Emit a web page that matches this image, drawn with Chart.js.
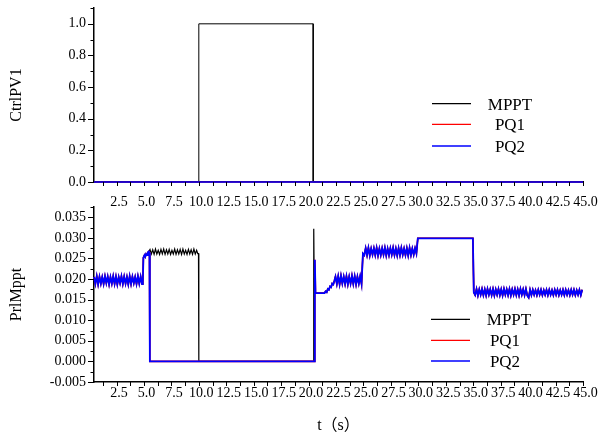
<!DOCTYPE html>
<html>
<head>
<meta charset="utf-8">
<script src="https://cdn.jsdelivr.net/npm/chart.js@4/dist/chart.umd.min.js"></script>
<style>
  html, body { margin: 0; padding: 0; background: #fff; }
  #wrap { position: relative; width: 601px; height: 437px; overflow: hidden; }
  #c1, #c2 { position: absolute; left: 0; }
  #c1 { top: 0; }
  #c2 { top: 200px; }
</style>
</head>
<body>
<div id="wrap">
  <canvas id="c1" width="601" height="215"></canvas>
  <canvas id="c2" width="601" height="237"></canvas>
</div>
<script>
// ---------------- DATA ----------------
const seriesNames = ['MPPT', 'PQ1', 'PQ2'];
const xTickValues = [2.5, 5, 7.5, 10, 12.5, 15, 17.5, 20, 22.5, 25, 27.5, 30, 32.5, 35, 37.5, 40, 42.5, 45];
const topYTicks = [0, 0.2, 0.4, 0.6, 0.8, 1.0];
const botYTicks = [-0.005, 0, 0.005, 0.010, 0.015, 0.020, 0.025, 0.030, 0.035];

// Top panel (CtrlPV1): [t, value]
const ctrlMppt = [[0.45, 0], [10, 0], [10, 1], [20.42, 1], [20.42, 0], [45, 0]];
const ctrlPq1 = [[0.45, 0], [45, 0]];
const ctrlPq2 = [[0.45, 0], [45, 0]];

// Bottom panel (PrlMppt)
const SAMPLE_STEP = 0.125; // sampling step of the oscillating stretches (s)
// oscillation 0.45 s .. (shared by all series)
const bandA = [0.0205,0.0188,0.0207,0.0187,0.0206,0.0189,0.0205,0.0188,0.0207,0.0190,
               0.0206,0.0187,0.0205,0.0189,0.0207,0.0188,0.0206,0.0187,0.0205,0.0190,
               0.0207,0.0188,0.0206,0.0189,0.0205,0.0187,0.0207,0.0188,0.0206,0.0190,
               0.0205,0.0188,0.0207,0.0189,0.0206,0.0188];
const rampA = [[4.9,0.0193],[4.95,0.0252],[5.05,0.0258],[5.12,0.0254],[5.2,0.0261],[5.28,0.0258],[5.36,0.0265],[5.44,0.0267]];
// PQ: drop to zero, spike at re-enable
const pqZero = [[5.5,0.0264],[5.54,0],[20.52,0]];
const pqSpike = [[20.57,0.0247],[20.63,0.0166],[21.45,0.0166]];
// MPPT: oscillation 5.55 s .. then off until 20.44 s
const bandM = [0.0272,0.0261,0.0271,0.0260,0.0273,0.0261,0.0270,0.0260,0.0272,0.0261,
               0.0273,0.0260,0.0271,0.0261,0.0272,0.0260,0.0270,0.0261,0.0273,0.0260,
               0.0271,0.0261,0.0272,0.0260,0.0273,0.0261,0.0270,0.0260,0.0272,0.0261,
               0.0271,0.0260,0.0273,0.0261,0.0270];
const mpptZero = [[9.9,0.0262],[9.97,0.0262],[10.0,0],[20.44,0],[20.47,0.0322],[20.52,0.0166],[21.45,0.0166]];
// shared afterwards
const rampB = [[21.55,0.0170],[21.65,0.0168],[21.75,0.0176],[21.85,0.0174],[21.95,0.0182],[22.05,0.0180],[22.15,0.0189],[22.25,0.0187],[22.35,0.0196]];
const bandB = [0.0206,0.0188,0.0207,0.0187,0.0208,0.0189,0.0206,0.0188,0.0207,0.0187,
               0.0206,0.0189,0.0208,0.0188,0.0207,0.0187,0.0206,0.0189,0.0207,0.0188];
const bandC = [0.0262,0.0258,0.0275,0.0258,0.0276,0.0257,0.0274,0.0259,0.0275,0.0258,
               0.0276,0.0257,0.0274,0.0258,0.0275,0.0259,0.0276,0.0257,0.0274,0.0258,
               0.0275,0.0259,0.0276,0.0258,0.0274,0.0257,0.0275,0.0258,0.0276,0.0259,
               0.0274,0.0258,0.0275,0.0257,0.0276,0.0258,0.0274,0.0259,0.0275,0.0262];
const flatC = [[29.95,0.0299],[34.97,0.0299]];
const bandD = [0.0168,0.0161,0.0176,0.0160,0.0175,0.0162,0.0176,0.0161,0.0175,0.0160,
               0.0176,0.0162,0.0175,0.0161,0.0176,0.0160,0.0175,0.0162,0.0176,0.0161,
               0.0175,0.0160,0.0176,0.0162,0.0175,0.0161,0.0176,0.0160,0.0175,0.0162,
               0.0176,0.0161,0.0175,0.0160,0.0176,0.0162,0.0175,0.0161,0.0176,0.0160,
               0.0155,0.0174,0.0161,0.0174,0.0162,0.0173,0.0161,0.0174,0.0162,0.0174,
               0.0161,0.0173,0.0162,0.0174,0.0161,0.0174,0.0162,0.0173,0.0161,0.0174,
               0.0162,0.0174,0.0161,0.0173,0.0162,0.0174,0.0161,0.0174,0.0162,0.0173,
               0.0161,0.0174,0.0162,0.0174,0.0161,0.0173,0.0162,0.0174,0.0161,0.0174];
const bandStarts = { A: 0.45, M: 5.55, B: 22.45, C: 24.95, D: 35.05 };

// ---------------- BUILD ----------------
const pts = arr => arr.map(([x, y]) => ({ x, y }));
const sampled = (t0, vals) => vals.map((y, i) => ({ x: t0 + i * SAMPLE_STEP, y }));

const commonTail = [
  ...pts(rampB), ...sampled(bandStarts.B, bandB), ...sampled(bandStarts.C, bandC),
  ...pts(flatC), ...sampled(bandStarts.D, bandD)
];
const prlPq = [...sampled(bandStarts.A, bandA), ...pts(rampA), ...pts(pqZero), ...pts(pqSpike), ...commonTail];
const prlMppt = [...sampled(bandStarts.A, bandA), ...pts(rampA), ...sampled(bandStarts.M, bandM), ...pts(mpptZero), ...commonTail];

const colors = ['#000000', '#ff0000', '#0000ff'];
const FONT = "'Liberation Serif', 'Times New Roman', serif";

const tickMarks = {
  id: 'tickMarks',
  afterDatasetsDraw(chart, args, opts) {
    const ctx = chart.ctx;
    ctx.save();
    ctx.strokeStyle = '#000';
    ctx.lineWidth = 1;
    for (const id of Object.keys(opts.scales || {})) {
      const spec = opts.scales[id];
      const s = chart.scales[id];
      const groups = [[spec.major, spec.majorLen], [spec.minor, spec.minorLen]];
      for (const [vals, len] of groups) {
        for (const v of vals) {
          const p = Math.round(s.getPixelForValue(v)) + 0.5;
          ctx.beginPath();
          if (s.isHorizontal()) { ctx.moveTo(p, s.top); ctx.lineTo(p, s.top + len); }
          else { ctx.moveTo(s.right, p); ctx.lineTo(s.right - len, p); }
          ctx.stroke();
        }
      }
    }
    ctx.restore();
  }
};

const legendBox = {
  id: 'legendBox',
  afterDraw(chart, args, opts) {
    const ctx = chart.ctx;
    ctx.save();
    ctx.font = '17px ' + FONT;
    ctx.textAlign = 'center';
    ctx.textBaseline = 'middle';
    chart.data.datasets.forEach((ds, i) => {
      const y = opts.ys[i];
      ctx.strokeStyle = ds.borderColor;
      ctx.lineWidth = 1.3;
      ctx.beginPath();
      ctx.moveTo(opts.x1, y);
      ctx.lineTo(opts.x2, y);
      ctx.stroke();
      ctx.fillStyle = '#000';
      ctx.fillText(ds.label, opts.textX[i], y + 1.5);
    });
    ctx.restore();
  }
};

function halfSteps(arr) { // minor tick positions between majors
  const out = [];
  for (let i = 0; i < arr.length; i++) {
    const prev = i === 0 ? arr[0] - (arr[1] - arr[0]) : arr[i - 1];
    out.push((prev + arr[i]) / 2);
  }
  return out;
}

function makeChart(canvas, cfg) {
  const datasets = cfg.data.map((d, i) => ({
    label: seriesNames[i],
    data: d,
    borderColor: colors[i],
    borderWidth: cfg.widths[i],
    pointRadius: 0,
    tension: 0,
    fill: false,
    clip: false,
    order: 2 - i
  }));
  return new Chart(canvas, {
    type: 'line',
    data: { datasets },
    plugins: [tickMarks, legendBox],
    options: {
      responsive: false,
      animation: false,
      devicePixelRatio: 1,
      layout: { padding: { left: 0, right: 18, top: cfg.padTop, bottom: 0 } },
      plugins: {
        legend: { display: false },
        tooltip: { enabled: false },
        tickMarks: {
          scales: {
            x: { major: xTickValues, minor: halfSteps(xTickValues), majorLen: 4, minorLen: 4 },
            y: { major: cfg.yTicks, minor: cfg.yMinor, majorLen: 6, minorLen: 3.5 }
          }
        },
        legendBox: cfg.legend
      },
      scales: {
        x: {
          type: 'linear',
          min: 0.45, max: 45,
          grid: { display: false, drawTicks: false },
          border: { display: true, color: '#000', width: 1.5 },
          afterBuildTicks: s => { s.ticks = xTickValues.map(v => ({ value: v })); },
          afterFit: s => { s.height = cfg.xHeight; s.paddingLeft = 0; s.paddingRight = 0; },
          ticks: {
            autoSkip: false, maxRotation: 0, minRotation: 0,
            padding: cfg.xPad, labelOffset: 2.5,
            color: '#000', font: { family: FONT, size: 14 },
            callback: v => Number(v).toFixed(1)
          },
          title: cfg.xTitle
        },
        y: {
          type: 'linear',
          min: cfg.yMin, max: cfg.yMax,
          grid: { display: false, drawTicks: false },
          border: { display: true, color: '#000', width: 1.5 },
          afterBuildTicks: s => { s.ticks = cfg.yTicks.map(v => ({ value: v })); },
          afterFit: s => { s.width = 94; s.paddingTop = 0; s.paddingBottom = 0; },
          ticks: {
            padding: 8,
            color: '#000', font: { family: FONT, size: 14 },
            callback: v => Number(v).toFixed(cfg.yDigits)
          },
          title: {
            display: true, text: cfg.yTitle, color: '#000',
            font: { family: FONT, size: 16 },
            padding: { top: 7, bottom: 0 }
          }
        }
      }
    }
  });
}

makeChart(document.getElementById('c1'), {
  data: [pts(ctrlMppt), pts(ctrlPq1), pts(ctrlPq2)],
  widths: [1, 1.2, 1.4],
  padTop: 8, xHeight: 33, xPad: 12,
  yMin: 0, yMax: 1.1, yTicks: topYTicks,
  yMinor: [0.1, 0.3, 0.5, 0.7, 0.9, 1.1],
  yDigits: 1, yTitle: 'CtrlPV1',
  xTitle: { display: false },
  legend: { x1: 432, x2: 471, ys: [103.7, 124.3, 146], textX: [510, 510, 510] }
});

makeChart(document.getElementById('c2'), {
  data: [prlMppt, prlPq, prlPq.map(p => ({ x: p.x, y: p.y }))],
  widths: [1.2, 1.6, 1.8],
  padTop: 7, xHeight: 55, xPad: 3,
  yMin: -0.005, yMax: 0.0375, yTicks: botYTicks,
  yMinor: [-0.0025, 0.0025, 0.0075, 0.0125, 0.0175, 0.0225, 0.0275, 0.0325, 0.0375],
  yDigits: 3, yTitle: 'PrlMppt',
  xTitle: {
    display: true, text: 't（s）', color: '#000',
    font: { family: "'Liberation Serif', 'Noto Sans CJK SC', serif", size: 16 },
    padding: { top: 0, bottom: 1.5 }
  },
  legend: { x1: 431, x2: 470, ys: [119.3, 140.3, 161], textX: [509, 505, 505] }
});
</script>
</body>
</html>
